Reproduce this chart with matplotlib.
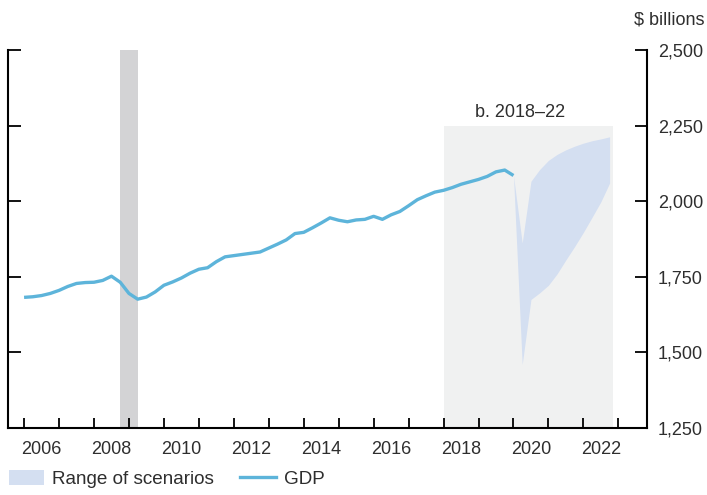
import matplotlib
matplotlib.use("Agg")
import matplotlib.pyplot as plt
from matplotlib.patches import Patch
from matplotlib.lines import Line2D
import numpy as np

plt.rcParams['font.family'] = ['Liberation Sans', 'DejaVu Sans']

# Quarterly GDP, 2006Q1 .. 2020Q1 ($ billions)
gdp_values = [
    1682, 1684, 1688, 1695, 1705, 1718, 1728, 1731,   # 2006-2007
    1732, 1738, 1752, 1732, 1695, 1676, 1683, 1700,   # 2008-2009
    1722, 1733, 1746, 1762, 1775, 1780, 1800, 1816,   # 2010-2011
    1820, 1824, 1828, 1832, 1845, 1858, 1872, 1893,   # 2012-2013
    1897, 1912, 1928, 1945, 1937, 1932, 1938, 1940,   # 2014-2015
    1950, 1940, 1955, 1966, 1985, 2005, 2018, 2030,   # 2016-2017
    2036, 2045, 2056, 2064, 2072, 2082, 2097, 2103,   # 2018-2019
    2085,                                             # 2020Q1
]
gdp_start_year = 2006

# Range of scenarios, 2020Q1 .. 2022Q4
scen_low = [2085, 1460, 1675, 1697, 1722, 1760, 1806, 1850, 1897, 1947, 1998, 2060]
scen_high = [2085, 1862, 2066, 2105, 2135, 2155, 2170, 2182, 2192, 2200, 2206, 2213]
scen_start_year = 2020

recession = (2008.75, 2009.25)
scenario_box = (2018.0, 2022.85)
scenario_box_top = 2250
scenario_label = "b. 2018\u201322"

year_ticks = list(range(2006, 2024))
year_labels = [str(y) for y in range(2006, 2023, 2)]
y_ticks = [1250, 1500, 1750, 2000, 2250, 2500]

gdp_x = gdp_start_year + np.arange(len(gdp_values)) / 4.0
scen_x = scen_start_year + np.arange(len(scen_low)) / 4.0

LINE_C = '#5db4da'
BAND_C = '#d4dff1'
BOX_C = '#f0f1f1'
REC_C = '#d3d3d5'
TXT_C = '#2e2e2e'

fig = plt.figure(figsize=(7.07, 4.95), dpi=100)
ax = fig.add_axes([8 / 707, 1 - 428 / 495, (647 - 8) / 707, (428 - 50) / 495])

ax.set_xlim(2005.54, 2023.82)
ax.set_ylim(1250, 2500)

ax.axvspan(*recession, color=REC_C, lw=0, zorder=1)
ax.fill_between(list(scenario_box), [1250, 1250], [scenario_box_top, scenario_box_top],
                color=BOX_C, lw=0, zorder=1)
ax.fill_between(scen_x, scen_low, scen_high, color=BAND_C, lw=0, zorder=2)
ax.plot(gdp_x, gdp_values, color=LINE_C, lw=2.4, zorder=3, solid_capstyle='butt',
        solid_joinstyle='round')
ax.text(np.mean(scenario_box) - 0.25, 2292, scenario_label, ha='center', va='center',
        fontsize=13, color=TXT_C)

for s in ['left', 'right', 'bottom']:
    ax.spines[s].set_linewidth(1.5)
    ax.spines[s].set_color('black')
ax.spines['top'].set_visible(False)

ax.set_yticks(y_ticks)
ax.set_yticklabels([f"{v:,}" for v in y_ticks])
ax.tick_params(axis='y', which='major', left=True, right=True, labelleft=False,
               labelright=True, direction='in', length=9, width=1.3, pad=8,
               labelsize=13, labelcolor=TXT_C)

ax.set_xticks(year_ticks)
ax.set_xticklabels([])
ax.tick_params(axis='x', which='major', direction='in', length=7.5, width=1.3)
ax.set_xticks([int(y) + 0.5 for y in year_labels], minor=True)
ax.set_xticklabels(year_labels, minor=True)
ax.tick_params(axis='x', which='minor', length=0, pad=9, labelsize=13, labelcolor=TXT_C)

fig.text(705 / 707, 1 - 20 / 495, "$ billions", ha='right', va='center', fontsize=13,
         color=TXT_C)

handles = [Patch(facecolor=BAND_C, edgecolor='none', label='Range of scenarios'),
           Line2D([0], [0], color=LINE_C, lw=2.4, label='GDP')]
fig.legend(handles=handles, loc='lower left', bbox_to_anchor=(-0.012, -0.02), ncol=2,
           frameon=False, fontsize=13.6, handlelength=1.9, handleheight=0.8,
           handletextpad=0.4, columnspacing=1.4, labelcolor=TXT_C)

fig.savefig('out.png', dpi=100)
